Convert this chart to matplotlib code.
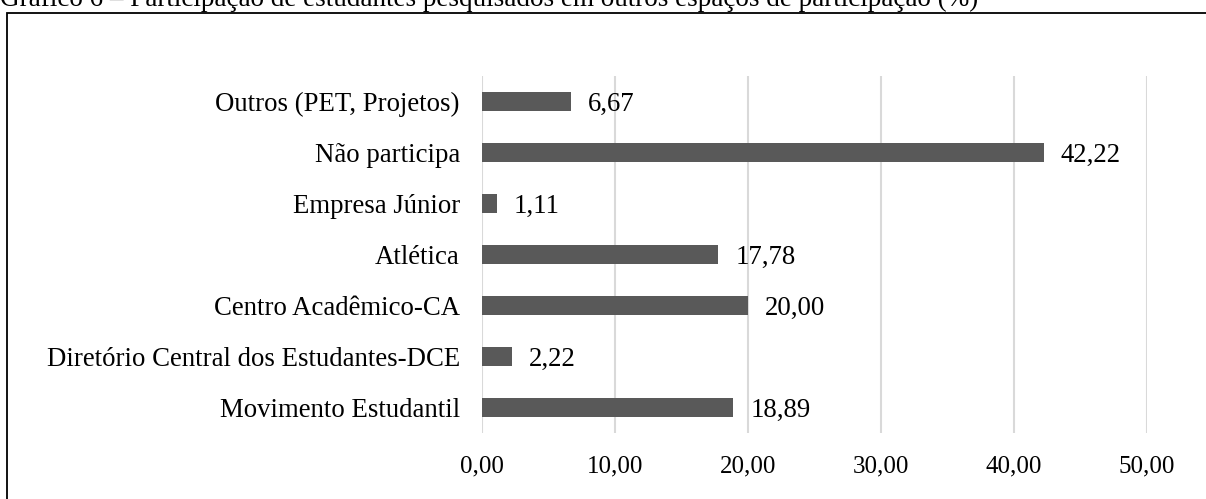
import matplotlib.pyplot as plt
from matplotlib.patches import Rectangle

# ---------------- data (bottom to top, as drawn) ----------------
categories = ['Movimento Estudantil', 'Diretório Central dos Estudantes-DCE',
              'Centro Acadêmico-CA', 'Atlética', 'Empresa Júnior',
              'Não participa', 'Outros (PET, Projetos)']
values = [18.89, 2.22, 20.00, 17.78, 1.11, 42.22, 6.67]
xticks = [0, 10, 20, 30, 40, 50]
title = 'Gráfico 6 – Participação de estudantes pesquisados em outros espaços de participação (%)'

plt.rcParams['font.family'] = ['Liberation Serif', 'DejaVu Serif']

W, H = 1206, 499
fig = plt.figure(figsize=(W / 100, H / 100), dpi=100)
ax = fig.add_axes([482 / W, 1 - 433 / H, (1147 - 482) / W, (433 - 76) / H])

ypos = list(range(len(categories)))
ax.barh(ypos, values, height=0.36, color='#595959', zorder=3)
for y, v in zip(ypos, values):
    ax.annotate(f'{v:.2f}'.replace('.', ','), (v, y), xytext=(17, -3),
                textcoords='offset pixels', va='center', ha='left',
                fontsize=19.3, color='black')

ax.set_xlim(0, 50)
ax.set_ylim(-0.5, len(categories) - 0.5)
ax.set_yticks(ypos)
ax.set_yticklabels(categories, fontsize=19.3)
ax.set_xticks(xticks)
ax.set_xticklabels([f'{t:.2f}'.replace('.', ',') for t in xticks], fontsize=18)
ax.tick_params(axis='both', length=0)
ax.tick_params(axis='y', pad=16)
ax.tick_params(axis='x', pad=16)
ax.grid(axis='x', color='#d9d9d9', linewidth=1.5, zorder=0)
for s in ax.spines.values():
    s.set_visible(False)

# outer frame (clipped by the figure edge on right/bottom) and cut-off caption
fig.patches.append(Rectangle((7 / W, -0.1), 1.2, 1 - 13 / H + 0.1,
                             transform=fig.transFigure, fill=False,
                             edgecolor='black', linewidth=1.3))
fig.text(0 / W, 1 - 6 / H, title, fontsize=19.5, ha='left', va='baseline')

fig.savefig('out.png', dpi=100)
